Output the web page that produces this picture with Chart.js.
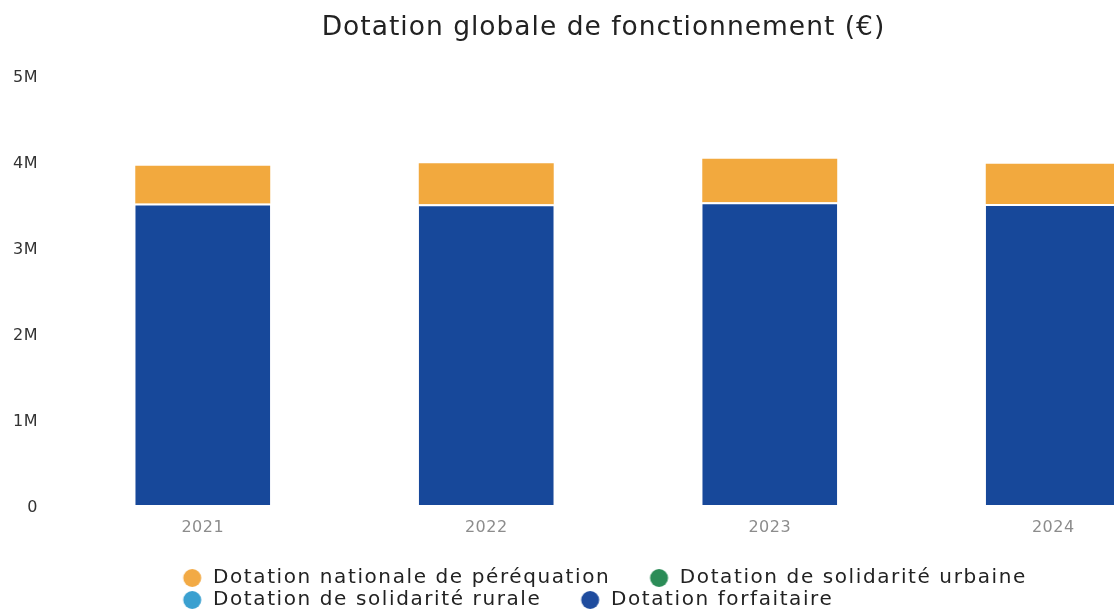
<!DOCTYPE html>
<html><head><meta charset="utf-8">
<script src="https://cdn.jsdelivr.net/npm/chart.js@4.4.1/dist/chart.umd.min.js"></script>
<style>html,body{margin:0;padding:0;background:#fff;overflow:hidden;width:1114px;height:609px}canvas{display:block}</style>
</head><body>
<canvas id="c" width="1206" height="620"></canvas>
<script>
const categories = ['2021', '2022', '2023', '2024'];
const forfaitaire = [3505000, 3496000, 3520000, 3500000];
const perequation = [440000, 477000, 506000, 468000];
const solidariteUrbaine = [0, 0, 0, 0];
const solidariteRurale = [0, 0, 0, 0];
const yTicks = [0, 1000000, 2000000, 3000000, 4000000, 5000000];
const yTickLabels = ['0', '1M', '2M', '3M', '4M', '5M'];
const titleText = 'Dotation globale de fonctionnement (€)';

const FONT = 'DejaVu Sans';
const DOT_W = 57.5;

function legendDot(color) {
  const W = DOT_W, H = 20;
  const c = document.createElement('canvas');
  c.width = W; c.height = H;
  const g = c.getContext('2d');
  g.fillStyle = color;
  g.beginPath();
  g.arc(W - 11, H / 2, 9, 0, Math.PI * 2);
  g.fill();
  return c;
}

function withSpacing(obj, name, ls, dx, dy) {
  const key = '__ls_' + name;
  if (!obj || obj[key]) return;
  const orig = obj[name];
  obj[name] = function (...args) {
    const ctx = this.ctx;
    ctx.save();
    ctx.letterSpacing = ls;
    if (dx || dy) ctx.translate(dx || 0, dy || 0);
    try { return orig.apply(this, args); } finally { ctx.restore(); }
  };
  obj[key] = true;
}

const spacing = {
  id: 'spacing',
  beforeLayout(c) {
    withSpacing(c.legend, 'fit', '1.6px');
    withSpacing(c.legend, 'draw', '1.6px');
    withSpacing(c.titleBlock, 'draw', '1px', 6, 2);
    if (c.scales.x) withSpacing(c.scales.x, 'drawLabels', '0.5px');
    if (c.scales.y) withSpacing(c.scales.y, 'drawLabels', '0.5px', 0, 3);
  }
};
const legendShift = {
  id: 'legendShift',
  afterLayout(c) { if (c.legend) { c.legend.left = 143.5; } }
};

new Chart(document.getElementById('c'), {
  type: 'bar',
  data: {
    labels: categories,
    datasets: [
      { label: 'Dotation forfaitaire', data: forfaitaire, backgroundColor: '#17489A',
        borderColor: '#ffffff', borderWidth: { top: 2, left: 0, right: 0, bottom: 0 }, borderSkipped: false,
        pointStyle: legendDot('#1F4C9E') },
      { label: 'Dotation de solidarité rurale', data: solidariteRurale, backgroundColor: '#3AA0D0',
        borderWidth: 0, pointStyle: legendDot('#3AA0D0') },
      { label: 'Dotation de solidarité urbaine', data: solidariteUrbaine, backgroundColor: '#2B8C57',
        borderWidth: 0, pointStyle: legendDot('#2B8C57') },
      { label: 'Dotation nationale de péréquation', data: perequation, backgroundColor: '#F2A93E',
        borderWidth: 0, pointStyle: legendDot('#F2AA45') }
    ]
  },
  plugins: [spacing, legendShift],
  options: {
    responsive: false,
    animation: false,
    devicePixelRatio: 1,
    layout: { padding: { left: 0, right: 11, top: 0, bottom: 0 } },
    datasets: { bar: { categoryPercentage: 1, barPercentage: 0.476 } },
    scales: {
      x: {
        stacked: true,
        grid: { display: false, drawTicks: false },
        border: { display: false },
        ticks: { padding: 13, color: '#8c8c8c', font: { family: FONT, size: 16 } },
        afterFit(s) { s.height = 61; }
      },
      y: {
        stacked: true,
        min: 0, max: 5000000,
        grid: { display: false, drawTicks: false },
        border: { display: false },
        ticks: {
          stepSize: 1000000, padding: 23, color: '#333', font: { family: FONT, size: 16 },
          callback: (v) => yTickLabels[yTicks.indexOf(v)]
        },
        afterFit(s) { s.width = 61; }
      }
    },
    plugins: {
      title: {
        display: true, text: titleText, color: '#222',
        font: { family: FONT, size: 26.5, weight: 'normal' },
        padding: { top: 10.1, bottom: 33.1 }
      },
      legend: {
        position: 'bottom', align: 'start', reverse: true,
        labels: {
          usePointStyle: true, pointStyleWidth: DOT_W, padding: 2, color: '#222',
          font: { family: FONT, size: 20 }
        }
      },
      tooltip: { enabled: false }
    }
  }
});
</script>
</body></html>
